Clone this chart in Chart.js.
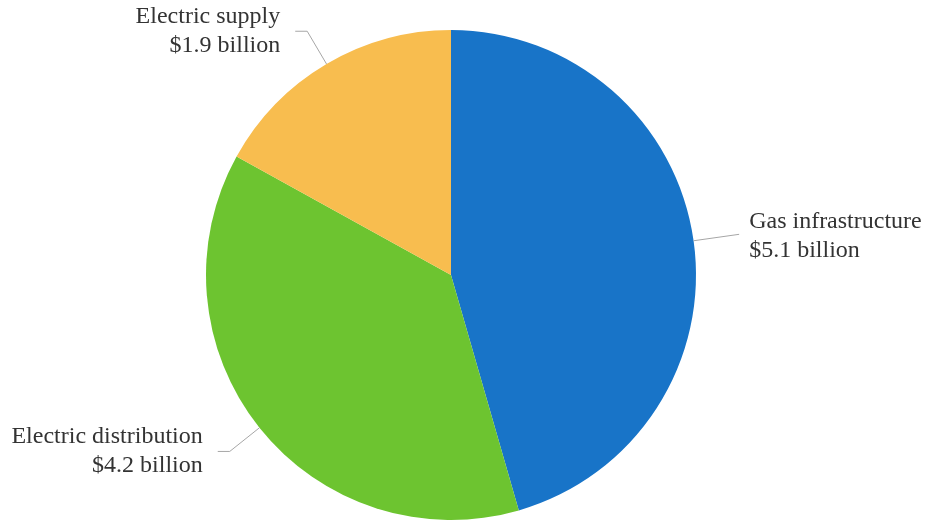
<!DOCTYPE html>
<html>
<head>
<meta charset="utf-8">
<script src="https://cdn.jsdelivr.net/npm/chart.js@4.4.1/dist/chart.umd.min.js"></script>
<style>
  html, body { margin: 0; padding: 0; background: #fff; }
  #wrap { width: 925px; height: 524px; }
  .preload { font-family: "Liberation Serif"; position: absolute; left: -9999px; }
</style>
</head>
<body>
<span class="preload">Electric supply $1.9</span>
<div id="wrap"><canvas id="pieChart"></canvas></div>
<script>
// 부문별 투자액 (billion $)
var segments = ["Gas infrastructure", "Electric distribution", "Electric supply"];
var amounts = [5.1, 4.2, 1.9];
var sliceColors = ["#1874c8", "#6dc430", "#f8bd4f"];

var LABEL_FONT = '24px "Liberation Serif"';

// 라벨 + 지시선 그리는 플러그인
var calloutLabels = {
    id: 'calloutLabels',
    afterDatasetsDraw: function (chart) {
        var ctx = chart.ctx;
        var meta = chart.getDatasetMeta(0);
        ctx.save();
        ctx.font = LABEL_FONT + ', serif';
        ctx.textBaseline = 'middle';
        meta.data.forEach(function (arc, i) {
            var mid = (arc.startAngle + arc.endAngle) / 2;
            var r = arc.outerRadius;
            var cos = Math.cos(mid), sin = Math.sin(mid);
            var x0 = arc.x + cos * r, y0 = arc.y + sin * r;
            var right = cos > 0;
            var leg = right ? 46 : 38;
            var x1 = arc.x + cos * (r + leg), y1 = arc.y + sin * (r + leg);
            var x2 = right ? x1 : x1 - 12;

            ctx.strokeStyle = '#a6a6a6';
            ctx.lineWidth = 1;
            ctx.beginPath();
            ctx.moveTo(x0, y0);
            ctx.lineTo(x1, y1);
            ctx.lineTo(x2, y1);
            ctx.stroke();

            ctx.fillStyle = '#333333';
            ctx.textAlign = right ? 'left' : 'right';
            var tx = right ? x2 + 10 : x2 - 15;
            var ty = right ? y1 + 2 : y1;
            ctx.fillText(segments[i], tx, ty - 14.5);
            ctx.fillText('$' + amounts[i].toFixed(1) + ' billion', tx, ty + 14.5);
        });
        ctx.restore();
    }
};

function drawChart() {
    var ctx = document.getElementById("pieChart").getContext('2d');
    new Chart(ctx, {
        type: 'pie',
        data: {
            labels: segments,
            datasets: [{
                data: amounts,
                backgroundColor: sliceColors,
                borderWidth: 0
            }]
        },
        options: {
            responsive: true,
            maintainAspectRatio: false,
            animation: false,
            layout: {
                padding: { left: 206, right: 229, top: 30, bottom: 4 }
            },
            plugins: {
                legend: { display: false },
                tooltip: { enabled: false }
            }
        },
        plugins: [calloutLabels]
    });
}

if (document.fonts && document.fonts.load) {
    document.fonts.load(LABEL_FONT).then(drawChart, drawChart);
} else {
    drawChart();
}
</script>
</body>
</html>
